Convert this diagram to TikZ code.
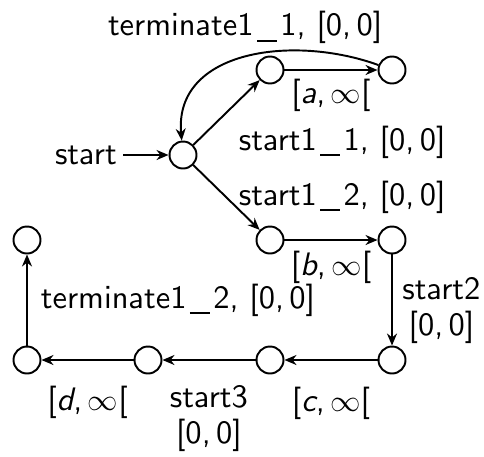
\documentclass[tikz,border=0pt]{standalone}
\usepackage{tikz}
\usetikzlibrary{arrows.meta,positioning}

\font\sfbig=cmss10 at 18.5pt
\font\sfbigit=cmssi10 at 18.5pt
\newcommand{\usc}{\kern0.1em\rule[-0.18em]{0.62em}{0.045em}\kern0.1em}
\newcommand{\lv}[1]{{\sfbigit #1}}

\begin{document}
\begin{tikzpicture}[
    font=\fontsize{18.5}{20}\selectfont\sfbig,
    loc/.style={draw,circle,line width=1.1pt,minimum size=0.54cm,inner sep=0pt},
    arr/.style={-{Stealth[length=2.4mm,width=2mm]},line width=1.1pt},
    lbl/.style={anchor=base,inner sep=0pt,align=center},
    lblw/.style={anchor=base west,inner sep=0pt},
  ]
  \useasboundingbox (0,0) rectangle (9.68,-9.12);
  \node[loc] (s0) at (3.66,-3.10) {};
  \node[loc] (t1) at (5.40,-1.40) {};
  \node[loc] (t2) at (7.84,-1.40) {};
  \node[loc] (m1) at (5.40,-4.80) {};
  \node[loc] (m2) at (7.84,-4.80) {};
  \node[loc] (b4) at (7.84,-7.20) {};
  \node[loc] (b3) at (5.40,-7.20) {};
  \node[loc] (b2) at (2.96,-7.20) {};
  \node[loc] (b1) at (0.54,-7.20) {};
  \node[loc] (fin) at (0.54,-4.80) {};
  \node[left=1.2cm of s0.center,anchor=east] (init) {start};

  \draw[arr] (init) -- (s0);
  \draw[arr] (s0) -- node[lblw,xshift=0.23cm,yshift=-0.75cm] {start1\usc1, [0,\,0]} (t1);
  \draw[arr] (s0) -- node[lblw,xshift=0.23cm,yshift=-0.15cm] {start1\usc2, [0,\,0]} (m1);
  \draw[arr] (t1) -- node[lbl,yshift=-0.66cm] {[\lv{a},\,$\infty$[} (t2);
  \draw[arr] (t2) to[out=160,in=95,looseness=1.1]
    node[lbl,yshift=0.43cm] {terminate1\usc1, [0,\,0]} (s0);
  \draw[arr] (m1) -- node[lbl,yshift=-0.70cm] {[\lv{b},\,$\infty$[} (m2);
  \draw[arr] (m2) -- node[lbl,xshift=0.99cm,yshift=-0.70cm] {start2\\{}[0,\,0]} (b4);
  \draw[arr] (b4) -- node[lbl,yshift=-1.02cm] {[\lv{c},\,$\infty$[} (b3);
  \draw[arr] (b3) -- node[lbl,yshift=-1.66cm] {start3\\{}[0,\,0]} (b2);
  \draw[arr] (b2) -- node[lbl,yshift=-1.0cm] {[\lv{d},\,$\infty$[} (b1);
  \draw[arr] (b1) -- node[lblw,xshift=0.26cm,yshift=-0.16cm] {terminate1\usc2, [0,\,0]} (fin);
\end{tikzpicture}
\end{document}
